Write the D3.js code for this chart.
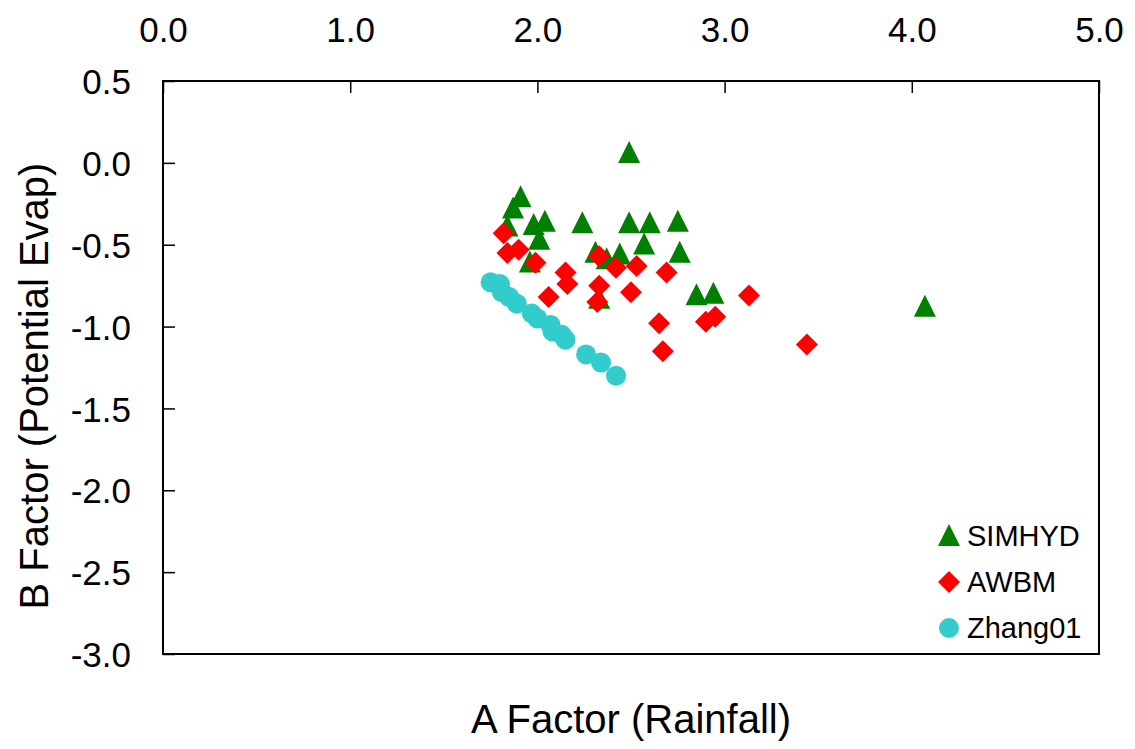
<!DOCTYPE html>
<html>
<head>
  <meta charset="utf-8">
  <script src="https://d3js.org/d3.v7.min.js"></script>
  <style>
    body { margin: 0; background: #fff; }
    text { font-family: Arial, "Liberation Sans", sans-serif; fill: #000; }
    .axis path { display: none; }
    .axis line { stroke: #000; stroke-width: 1.5; }
    .axis text { font-size: 35px; }
  </style>
</head>
<body>
<script>
  // SIMHYD (A factor, B factor)
  var simhydA = [2.49, 1.91, 1.87, 1.84, 1.98, 2.04, 2.01, 1.96, 2.24, 2.49, 2.60, 2.75, 2.57, 2.76, 2.31, 2.37, 2.44, 2.33, 2.85, 2.94, 4.07];
  var simhydB = [0.06, -0.21, -0.28, -0.39, -0.38, -0.36, -0.47, -0.61, -0.37, -0.37, -0.37, -0.36, -0.50, -0.55, -0.55, -0.59, -0.56, -0.83, -0.81, -0.80, -0.88];
  // AWBM
  var awbmA = [1.82, 1.84, 1.90, 1.99, 2.15, 2.16, 2.06, 2.33, 2.42, 2.53, 2.33, 2.32, 2.50, 2.69, 2.65, 2.67, 2.90, 2.95, 3.13, 3.44];
  var awbmB = [-0.43, -0.55, -0.53, -0.61, -0.67, -0.74, -0.82, -0.57, -0.64, -0.63, -0.75, -0.85, -0.79, -0.67, -0.98, -1.15, -0.97, -0.94, -0.81, -1.11];
  // Zhang01
  var zhangA = [1.75, 1.80, 1.81, 1.85, 1.89, 1.97, 2.00, 2.07, 2.08, 2.13, 2.15, 2.26, 2.34, 2.42];
  var zhangB = [-0.73, -0.74, -0.79, -0.82, -0.86, -0.92, -0.95, -0.99, -1.03, -1.05, -1.08, -1.17, -1.22, -1.30];

  var xTicks = [0, 1, 2, 3, 4, 5];
  var yTicks = [0.5, 0, -0.5, -1, -1.5, -2, -2.5, -3];
  var seriesNames = ["SIMHYD", "AWBM", "Zhang01"];
  var seriesColors = ["#008000", "#ff0000", "#33cccc"];

  var W = 1135, H = 749;
  var margin = {left: 163, top: 81, right: 36, bottom: 95};
  var w = W - margin.left - margin.right, h = H - margin.top - margin.bottom;

  var svg = d3.select("body").append("svg").attr("width", W).attr("height", H);
  var g = svg.append("g").attr("transform", "translate(" + margin.left + "," + margin.top + ")");

  var x = d3.scaleLinear().domain([0, 5]).range([0, w]);
  var y = d3.scaleLinear().domain([-3, 0.5]).range([h, 0]);

  // plain hyphen for negatives, like the original
  var fmt = function(d) { return d.toFixed(1); };

  // a triangle as wide as it is tall, and a square diamond
  var tri = { draw: function(ctx, size) {
    var s = Math.sqrt(size) / 2;
    ctx.moveTo(0, -s * 1.1); ctx.lineTo(s, s * 0.9); ctx.lineTo(-s, s * 0.9); ctx.closePath();
  }};
  var dia = { draw: function(ctx, size) {
    var s = Math.sqrt(size) / 2;
    ctx.moveTo(0, -s); ctx.lineTo(s, 0); ctx.lineTo(0, s); ctx.lineTo(-s, 0); ctx.closePath();
  }};
  var shapes = [d3.symbol().type(tri).size(484), d3.symbol().type(dia).size(484), d3.symbol().type(d3.symbolCircle).size(314)];

  g.append("g").attr("class", "axis")
    .call(d3.axisTop(x).tickValues(xTicks).tickSize(-12).tickPadding(39).tickFormat(fmt))
    .selectAll("text").attr("dy", "0");
  g.append("g").attr("class", "axis")
    .call(d3.axisLeft(y).tickValues(yTicks).tickSize(-12).tickPadding(32).tickFormat(fmt))
    .selectAll("text").attr("dy", "0.36em");

  g.append("rect").attr("width", w).attr("height", h)
    .attr("fill", "none").attr("stroke", "#000").attr("stroke-width", 2);

  var sets = [[simhydA, simhydB], [awbmA, awbmB], [zhangA, zhangB]];
  sets.forEach(function(s, k) {
    g.append("g").selectAll("path")
      .data(s[0].map(function(a, i) { return [a, s[1][i]]; }))
      .enter().append("path")
      .attr("d", shapes[k]())
      .attr("fill", seriesColors[k])
      .attr("transform", function(d) { return "translate(" + x(d[0]) + "," + y(d[1]) + ")"; });
  });

  // legend
  var leg = svg.append("g").attr("transform", "translate(949,536)");
  seriesNames.forEach(function(n, k) {
    var row = leg.append("g").attr("transform", "translate(0," + (k * 46) + ")");
    row.append("path").attr("d", shapes[k]()).attr("fill", seriesColors[k]);
    row.append("text").attr("x", 18).attr("y", 10).style("font-size", "29px").text(n);
  });

  svg.append("text").attr("x", 631).attr("y", 733).attr("text-anchor", "middle")
    .style("font-size", "40px").text("A Factor (Rainfall)");
  svg.append("text").attr("transform", "translate(48,386) rotate(-90)").attr("text-anchor", "middle")
    .style("font-size", "40px").text("B Factor (Potential Evap)");
</script>
</body>
</html>
